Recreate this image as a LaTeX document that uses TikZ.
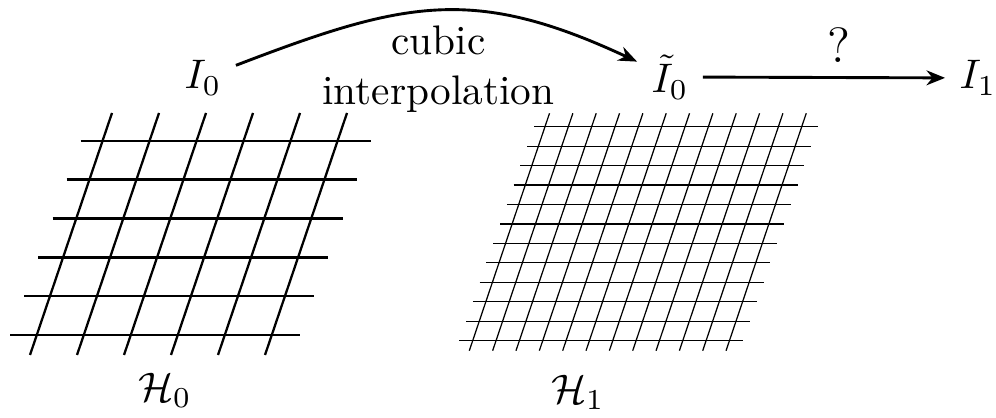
\documentclass[tikz,border=0pt]{standalone}
\usetikzlibrary{arrows.meta, positioning}
\begin{document}
\begin{tikzpicture}[x=0.851cm, y=0.851cm, >={Stealth[length=4.5pt, width=3.6pt]}]
    \useasboundingbox (0,0) rectangle (9.96,4.18);

    % Coarse mesh H_0
    \foreach \i in {0,...,5}
        \draw[line width=0.55pt] (0.807-0.141*\i, 2.773-0.389*\i) -- ++(2.9,0);
    \foreach \j in {0,...,5}
        \draw[line width=0.55pt] (0.30+0.47*\j, 0.63) -- ++(0.82,2.42);
    \node (H0) at (1.65,0.28) {$\mathcal{H}_0$};

    % Fine mesh H_1
    \foreach \i in {0,...,11}
        \draw[line width=0.3pt] (5.34-0.068*\i, 2.913-0.1945*\i) -- ++(2.84,0);
    \foreach \j in {0,...,11}
        \draw[line width=0.3pt] (4.693+0.2334*\j, 0.673) -- ++(0.802,2.374);
    \node (H1) at (5.78,0.26) {$\mathcal{H}_1$};

    % States
    \node (I0) at (2.03,3.40) {$I_0$};
    \node (I0t) at (6.70,3.41) {$\tilde{I}_0$};
    \node (I1) at (9.78,3.40) {$I_1$};

    % Maps between states
    \draw[->, line width=0.7pt] (I0) to[out=21, in=155, looseness=1.15]
        node[below, align=center] {cubic\\interpolation} (I0t);
    \draw[->, line width=0.7pt] (I0t) -- node[pos=0.56, above] {\large ?} (I1);
\end{tikzpicture}
\end{document}
